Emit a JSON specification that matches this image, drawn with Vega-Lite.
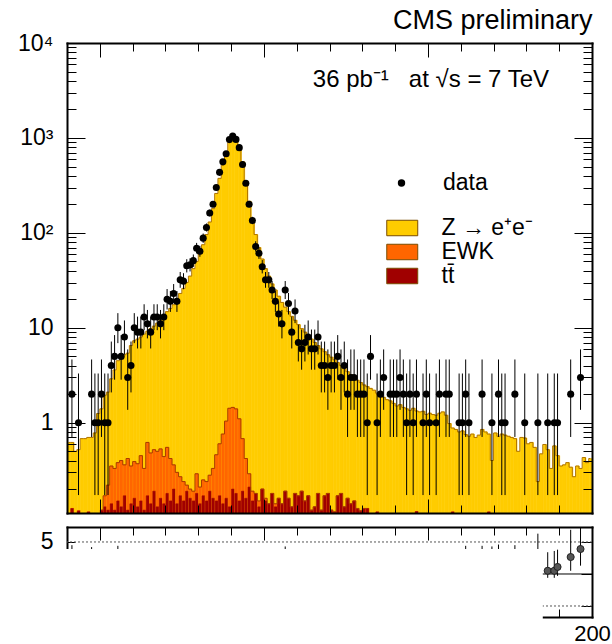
{
  "$schema": "https://vega.github.io/schema/vega-lite/v6.json",
  "background": "white",
  "padding": {"left": 0, "top": 7, "right": 0, "bottom": 0},
  "config": {
    "font": "Liberation Sans",
    "view": {"stroke": null},
    "axis": {"grid": false, "domainColor": "black", "domainWidth": 2, "domainCap": "square", "tickColor": "black", "tickWidth": 1, "labelColor": "black", "labelFont": "Liberation Sans", "labelFontSize": 23, "title": null}
  },
  "datasets": {
    "h": [
      {"m": 40.5, "tot": 0.62},
      {"m": 41.5, "n": 2, "elo": 0.708, "ehi": 4.638, "tot": 0.62, "ewk": 0.125, "tt": 0.125},
      {"m": 42.5, "tot": 0.5},
      {"m": 43.5, "n": 1, "elo": 0.173, "ehi": 3.3, "tot": 0.52, "ewk": 0.118, "tt": 0.118},
      {"m": 44.5, "tot": 0.68},
      {"m": 45.5, "tot": 0.68},
      {"m": 46.5, "tot": 0.7, "ewk": 0.115, "tt": 0.115},
      {"m": 47.5, "n": 2, "elo": 0.708, "ehi": 4.638, "tot": 0.7},
      {"m": 48.5, "n": 1, "elo": 0.173, "ehi": 3.3, "tot": 0.78},
      {"m": 49.5, "n": 1, "elo": 0.173, "ehi": 3.3, "tot": 1.25},
      {"m": 50.5, "n": 2, "elo": 0.708, "ehi": 4.638, "tot": 1.4, "ewk": 0.12, "tt": 0.12},
      {"m": 51.5, "n": 1, "elo": 0.173, "ehi": 3.3, "tot": 1.95, "ewk": 0.17, "tt": 0.13},
      {"m": 52.5, "n": 1, "elo": 0.173, "ehi": 3.3, "tot": 2.1, "ewk": 0.22, "tt": 0.12},
      {"m": 53.5, "n": 4, "elo": 2.086, "ehi": 7.163, "tot": 2.9, "ewk": 0.35, "tt": 0.14},
      {"m": 54.5, "n": 5, "elo": 2.84, "ehi": 8.382, "tot": 3.6, "ewk": 0.33, "tt": 0.12},
      {"m": 55.5, "n": 10, "elo": 6.891, "ehi": 14.27, "tot": 4.5, "ewk": 0.38, "tt": 0.15},
      {"m": 56.5, "n": 5, "elo": 2.84, "ehi": 8.382, "tot": 4.8, "ewk": 0.4, "tt": 0.13},
      {"m": 57.5, "n": 8, "elo": 5.232, "ehi": 11.95, "tot": 5.2, "ewk": 0.36, "tt": 0.17},
      {"m": 58.5, "n": 3, "elo": 1.367, "ehi": 5.918, "tot": 5.4, "ewk": 0.42, "tt": 0.12},
      {"m": 59.5, "n": 4, "elo": 2.086, "ehi": 7.163, "tot": 6.5, "ewk": 0.35, "tt": 0.14},
      {"m": 60.5, "n": 10, "elo": 6.891, "ehi": 14.27, "tot": 7.3, "ewk": 0.39, "tt": 0.16},
      {"m": 61.5, "n": 9, "elo": 6.057, "ehi": 13.11, "tot": 7.6, "ewk": 0.37, "tt": 0.13},
      {"m": 62.5, "n": 9, "elo": 6.057, "ehi": 13.11, "tot": 8.0, "ewk": 0.45, "tt": 0.15},
      {"m": 63.5, "n": 13, "elo": 9.44, "ehi": 17.7, "tot": 8.6, "ewk": 0.33, "tt": 0.12},
      {"m": 64.5, "n": 11, "elo": 7.734, "ehi": 15.42, "tot": 9.2, "ewk": 0.62, "tt": 0.17},
      {"m": 65.5, "n": 9, "elo": 6.057, "ehi": 13.11, "tot": 9.8, "ewk": 0.48, "tt": 0.14},
      {"m": 66.5, "n": 13, "elo": 9.44, "ehi": 17.7, "tot": 10.4, "ewk": 0.52, "tt": 0.19},
      {"m": 67.5, "n": 13, "elo": 9.44, "ehi": 17.7, "tot": 11.2, "ewk": 0.5, "tt": 0.13},
      {"m": 68.5, "n": 11, "elo": 7.734, "ehi": 15.42, "tot": 12.0, "ewk": 0.53, "tt": 0.16},
      {"m": 69.5, "n": 13, "elo": 9.44, "ehi": 17.7, "tot": 13.2, "ewk": 0.44, "tt": 0.14},
      {"m": 70.5, "n": 20, "elo": 15.6, "ehi": 25.6, "tot": 14.8, "ewk": 0.55, "tt": 0.18},
      {"m": 71.5, "n": 19, "elo": 14.7, "ehi": 24.4, "tot": 16.0, "ewk": 0.42, "tt": 0.15},
      {"m": 72.5, "n": 23, "elo": 18.3, "ehi": 28.9, "tot": 17.5, "ewk": 0.36, "tt": 0.2},
      {"m": 73.5, "n": 19, "elo": 14.7, "ehi": 24.4, "tot": 20, "ewk": 0.3, "tt": 0.14},
      {"m": 74.5, "n": 32, "elo": 26.4, "ehi": 38.7, "tot": 23, "ewk": 0.27, "tt": 0.17},
      {"m": 75.5, "n": 31, "elo": 25.5, "ehi": 37.6, "tot": 26, "ewk": 0.24, "tt": 0.15},
      {"m": 76.5, "n": 45, "elo": 38.3, "ehi": 52.8, "tot": 30, "ewk": 0.22, "tt": 0.19},
      {"m": 77.5, "n": 46, "elo": 39.2, "ehi": 53.9, "tot": 35, "ewk": 0.2, "tt": 0.16},
      {"m": 78.5, "n": 51, "elo": 43.9, "ehi": 59.2, "tot": 42, "ewk": 0.19, "tt": 0.15},
      {"m": 79.5, "n": 69, "elo": 60.7, "ehi": 78.4, "tot": 50, "ewk": 0.29, "tt": 0.18},
      {"m": 80.5, "n": 64, "elo": 56.0, "ehi": 73.1, "tot": 60, "ewk": 0.21, "tt": 0.14},
      {"m": 81.5, "n": 88, "elo": 78.6, "ehi": 98.4, "tot": 75, "ewk": 0.25, "tt": 0.17},
      {"m": 82.5, "n": 114, "elo": 103.3, "ehi": 125.7, "tot": 96, "ewk": 0.24, "tt": 0.15},
      {"m": 83.5, "n": 162, "elo": 149.3, "ehi": 175.8, "tot": 130, "ewk": 0.28, "tt": 0.19},
      {"m": 84.5, "n": 200, "elo": 185.9, "ehi": 215.2, "tot": 180, "ewk": 0.33, "tt": 0.16},
      {"m": 85.5, "n": 301, "elo": 283.7, "ehi": 319.4, "tot": 260, "ewk": 0.46, "tt": 0.15},
      {"m": 86.5, "n": 434, "elo": 413.2, "ehi": 456.0, "tot": 375, "ewk": 0.6, "tt": 0.17},
      {"m": 87.5, "n": 560, "elo": 536.3, "ehi": 584.7, "tot": 520, "ewk": 0.76, "tt": 0.14},
      {"m": 88.5, "n": 680, "elo": 653.9, "ehi": 707.1, "tot": 700, "ewk": 1.04, "tt": 0.16},
      {"m": 89.5, "n": 960, "elo": 929.0, "ehi": 992.0, "tot": 900, "ewk": 1.42, "tt": 0.13},
      {"m": 90.5, "n": 1050, "elo": 1017.6, "ehi": 1083.4, "tot": 1030, "ewk": 1.45, "tt": 0.2},
      {"m": 91.5, "n": 965, "elo": 934.0, "ehi": 997.1, "tot": 980, "ewk": 1.4, "tt": 0.18},
      {"m": 92.5, "n": 790, "elo": 761.9, "ehi": 819.1, "tot": 800, "ewk": 1.1, "tt": 0.15},
      {"m": 93.5, "n": 526, "elo": 503.1, "ehi": 550.0, "tot": 560, "ewk": 0.68, "tt": 0.19},
      {"m": 94.5, "n": 333, "elo": 314.8, "ehi": 352.2, "tot": 350, "ewk": 0.42, "tt": 0.16},
      {"m": 95.5, "n": 200, "elo": 185.9, "ehi": 215.2, "tot": 215, "ewk": 0.29, "tt": 0.21},
      {"m": 96.5, "n": 135, "elo": 123.4, "ehi": 147.6, "tot": 140, "ewk": 0.19, "tt": 0.15},
      {"m": 97.5, "n": 72, "elo": 63.5, "ehi": 81.6, "tot": 96, "ewk": 0.18, "tt": 0.18},
      {"m": 98.5, "n": 61, "elo": 53.2, "ehi": 70.0, "tot": 70, "ewk": 0.15, "tt": 0.13},
      {"m": 99.5, "n": 44, "elo": 37.4, "ehi": 51.7, "tot": 53, "ewk": 0.2, "tt": 0.2},
      {"m": 100.5, "n": 32, "elo": 26.4, "ehi": 38.7, "tot": 42, "ewk": 0.16, "tt": 0.15},
      {"m": 101.5, "n": 32, "elo": 26.4, "ehi": 38.7, "tot": 35, "ewk": 0.14, "tt": 0.14},
      {"m": 102.5, "n": 25, "elo": 20.1, "ehi": 31.1, "tot": 29, "ewk": 0.18, "tt": 0.18},
      {"m": 103.5, "n": 19, "elo": 14.7, "ehi": 24.4, "tot": 25, "ewk": 0.14, "tt": 0.13},
      {"m": 104.5, "n": 14, "elo": 10.3, "ehi": 18.8, "tot": 21.5, "ewk": 0.16, "tt": 0.16},
      {"m": 105.5, "n": 11, "elo": 7.734, "ehi": 15.42, "tot": 18.5, "ewk": 0.14, "tt": 0.14},
      {"m": 106.5, "n": 25, "elo": 20.1, "ehi": 31.1, "tot": 16.5, "ewk": 0.19, "tt": 0.19},
      {"m": 107.5, "n": 18, "elo": 13.8, "ehi": 23.3, "tot": 14.8, "ewk": 0.16, "tt": 0.16},
      {"m": 108.5, "n": 9, "elo": 6.057, "ehi": 13.11, "tot": 13.2, "ewk": 0.13, "tt": 0.13},
      {"m": 109.5, "n": 15, "elo": 11.2, "ehi": 19.9, "tot": 12.0, "ewk": 0.18, "tt": 0.18},
      {"m": 110.5, "n": 7, "elo": 4.419, "ehi": 10.77, "tot": 10.8, "ewk": 0.17, "tt": 0.17},
      {"m": 111.5, "n": 6, "elo": 3.62, "ehi": 9.584, "tot": 9.8, "ewk": 0.19, "tt": 0.19},
      {"m": 112.5, "n": 7, "elo": 4.419, "ehi": 10.77, "tot": 9.0, "ewk": 0.15, "tt": 0.15},
      {"m": 113.5, "n": 8, "elo": 5.232, "ehi": 11.95, "tot": 8.2, "ewk": 0.17, "tt": 0.17},
      {"m": 114.5, "n": 6, "elo": 3.62, "ehi": 9.584, "tot": 7.6, "ewk": 0.12, "tt": 0.12},
      {"m": 115.5, "n": 6, "elo": 3.62, "ehi": 9.584, "tot": 7.0, "ewk": 0.13, "tt": 0.13},
      {"m": 116.5, "n": 8, "elo": 5.232, "ehi": 11.95, "tot": 6.5, "ewk": 0.18, "tt": 0.18},
      {"m": 117.5, "n": 4, "elo": 2.086, "ehi": 7.163, "tot": 6.0, "ewk": 0.12, "tt": 0.12},
      {"m": 118.5, "n": 4, "elo": 2.086, "ehi": 7.163, "tot": 5.6, "ewk": 0.17, "tt": 0.17},
      {"m": 119.5, "n": 3, "elo": 1.367, "ehi": 5.918, "tot": 5.2, "ewk": 0.18, "tt": 0.18},
      {"m": 120.5, "n": 4, "elo": 2.086, "ehi": 7.163, "tot": 4.9, "ewk": 0.12, "tt": 0.12},
      {"m": 121.5, "n": 4, "elo": 2.086, "ehi": 7.163, "tot": 4.6, "ewk": 0.115, "tt": 0.115},
      {"m": 122.5, "n": 5, "elo": 2.84, "ehi": 8.382, "tot": 4.3, "ewk": 0.17, "tt": 0.17},
      {"m": 123.5, "n": 3, "elo": 1.367, "ehi": 5.918, "tot": 4.0, "ewk": 0.18, "tt": 0.18},
      {"m": 124.5, "n": 4, "elo": 2.086, "ehi": 7.163, "tot": 3.7, "ewk": 0.13, "tt": 0.13},
      {"m": 125.5, "n": 2, "elo": 0.708, "ehi": 4.638, "tot": 3.45, "ewk": 0.16, "tt": 0.16},
      {"m": 126.5, "n": 3, "elo": 1.367, "ehi": 5.918, "tot": 3.2, "ewk": 0.14, "tt": 0.14},
      {"m": 127.5, "n": 3, "elo": 1.367, "ehi": 5.918, "tot": 3.0, "ewk": 0.15, "tt": 0.15},
      {"m": 128.5, "n": 2, "elo": 0.708, "ehi": 4.638, "tot": 2.8, "ewk": 0.125, "tt": 0.125},
      {"m": 129.5, "n": 2, "elo": 0.708, "ehi": 4.638, "tot": 2.65, "ewk": 0.118, "tt": 0.118},
      {"m": 130.5, "n": 2, "elo": 0.708, "ehi": 4.638, "tot": 2.5, "ewk": 0.125, "tt": 0.125},
      {"m": 131.5, "n": 1, "elo": 0.173, "ehi": 3.3, "tot": 2.4, "ewk": 0.125, "tt": 0.125},
      {"m": 132.5, "n": 5, "elo": 2.84, "ehi": 8.382, "tot": 2.3},
      {"m": 133.5, "tot": 2.2},
      {"m": 134.5, "n": 1, "elo": 0.173, "ehi": 3.3, "tot": 2.05, "ewk": 0.115, "tt": 0.115},
      {"m": 135.5, "n": 2, "elo": 0.708, "ehi": 4.638, "tot": 1.95},
      {"m": 136.5, "n": 3, "elo": 1.367, "ehi": 5.918, "tot": 1.85},
      {"m": 137.5, "tot": 1.75},
      {"m": 138.5, "n": 2, "elo": 0.708, "ehi": 4.638, "tot": 1.7},
      {"m": 139.5, "n": 2, "elo": 0.708, "ehi": 4.638, "tot": 1.6},
      {"m": 140.5, "n": 2, "elo": 0.708, "ehi": 4.638, "tot": 1.5},
      {"m": 141.5, "n": 3, "elo": 1.367, "ehi": 5.918, "tot": 1.55},
      {"m": 142.5, "n": 2, "elo": 0.708, "ehi": 4.638, "tot": 1.45},
      {"m": 143.5, "n": 1, "elo": 0.173, "ehi": 3.3, "tot": 1.4},
      {"m": 144.5, "n": 2, "elo": 0.708, "ehi": 4.638, "tot": 1.35},
      {"m": 145.5, "n": 1, "elo": 0.173, "ehi": 3.3, "tot": 1.42},
      {"m": 146.5, "n": 2, "elo": 0.708, "ehi": 4.638, "tot": 1.33, "ewk": 0.116, "tt": 0.116},
      {"m": 147.5, "tot": 1.3},
      {"m": 148.5, "n": 1, "elo": 0.173, "ehi": 3.3, "tot": 1.32},
      {"m": 149.5, "n": 2, "elo": 0.708, "ehi": 4.638, "tot": 1.22},
      {"m": 150.5, "n": 1, "elo": 0.173, "ehi": 3.3, "tot": 1.26},
      {"m": 151.5, "tot": 1.22},
      {"m": 152.5, "n": 1, "elo": 0.173, "ehi": 3.3, "tot": 1.2},
      {"m": 153.5, "n": 2, "elo": 0.708, "ehi": 4.638, "tot": 1.26},
      {"m": 154.5, "tot": 1.3},
      {"m": 155.5, "n": 2, "elo": 0.708, "ehi": 4.638, "tot": 1.2},
      {"m": 156.5, "n": 2, "elo": 0.708, "ehi": 4.638, "tot": 0.98},
      {"m": 157.5, "tot": 0.88, "ewk": 0.115, "tt": 0.115},
      {"m": 158.5, "tot": 0.85},
      {"m": 159.5, "n": 1, "elo": 0.173, "ehi": 3.3, "tot": 0.8},
      {"m": 160.5, "n": 1, "elo": 0.173, "ehi": 3.3, "tot": 0.82},
      {"m": 161.5, "n": 2, "elo": 0.708, "ehi": 4.638, "tot": 0.75},
      {"m": 162.5, "n": 1, "elo": 0.173, "ehi": 3.3, "tot": 0.72},
      {"m": 163.5, "tot": 0.76},
      {"m": 164.5, "tot": 0.7},
      {"m": 165.5, "tot": 0.74},
      {"m": 166.5, "n": 2, "elo": 0.708, "ehi": 4.638, "tot": 0.85},
      {"m": 167.5, "tot": 0.8},
      {"m": 168.5, "tot": 0.76, "ewk": 0.115, "tt": 0.115},
      {"m": 169.5, "n": 1, "elo": 0.173, "ehi": 3.3, "tot": 0.4},
      {"m": 170.5, "tot": 0.78},
      {"m": 171.5, "n": 2, "elo": 0.708, "ehi": 4.638, "tot": 0.72},
      {"m": 172.5, "n": 1, "elo": 0.173, "ehi": 3.3, "tot": 0.76},
      {"m": 173.5, "n": 1, "elo": 0.173, "ehi": 3.3, "tot": 0.74},
      {"m": 174.5, "tot": 0.72},
      {"m": 175.5, "tot": 0.7},
      {"m": 176.5, "n": 2, "elo": 0.708, "ehi": 4.638, "tot": 0.68},
      {"m": 177.5, "tot": 0.5},
      {"m": 178.5, "tot": 0.7},
      {"m": 179.5, "n": 1, "elo": 0.173, "ehi": 3.3, "tot": 0.69},
      {"m": 180.5, "tot": 0.6},
      {"m": 181.5, "tot": 0.62},
      {"m": 182.5, "tot": 0.55},
      {"m": 183.5, "n": 1, "elo": 0.173, "ehi": 3.3, "tot": 0.24},
      {"m": 184.5, "tot": 0.47},
      {"m": 185.5, "tot": 0.59},
      {"m": 186.5, "n": 1, "elo": 0.173, "ehi": 3.3, "tot": 0.52},
      {"m": 187.5, "tot": 0.33},
      {"m": 188.5, "n": 1, "elo": 0.173, "ehi": 3.3, "tot": 0.57},
      {"m": 189.5, "n": 1, "elo": 0.173, "ehi": 3.3, "tot": 0.45},
      {"m": 190.5, "tot": 0.35},
      {"m": 191.5, "tot": 0.36},
      {"m": 192.5, "tot": 0.38},
      {"m": 193.5, "n": 2, "elo": 0.708, "ehi": 4.638, "tot": 0.34},
      {"m": 194.5, "tot": 0.27},
      {"m": 195.5, "tot": 0.35},
      {"m": 196.5, "n": 3, "elo": 1.367, "ehi": 5.918, "tot": 0.33},
      {"m": 197.5, "tot": 0.43},
      {"m": 198.5, "tot": 0.38},
      {"m": 199.5, "tot": 0.42}
    ],
    "pull": [
      {"m": 41.5, "p": 1.5, "plo": -0.8, "phi": 4.5},
      {"m": 47.5, "p": 1.6, "plo": -0.6, "phi": 4.2},
      {"m": 55.5, "p": 2.6, "plo": 0.9, "phi": 4.4},
      {"m": 106.5, "p": 2.1, "plo": 0.9, "phi": 4.3},
      {"m": 161.5, "p": 1.3, "plo": -1.0, "phi": 4.4},
      {"m": 166.5, "p": 1.2, "plo": -1.2, "phi": 4.4},
      {"m": 169.5, "p": 0.9, "plo": -1.4, "phi": 4.3},
      {"m": 171.5, "p": 1.3, "plo": -1.0, "phi": 4.6},
      {"m": 176.5, "p": 1.4, "plo": -1.0, "phi": 4.5},
      {"m": 183.5, "p": 1.6, "plo": -1.5, "phi": 6.3},
      {"m": 186.5, "p": 0.5, "plo": -0.6, "phi": 3.4},
      {"m": 188.5, "p": 0.5, "plo": -0.6, "phi": 3.6},
      {"m": 189.5, "p": 1.1, "plo": -0.3, "phi": 3.8},
      {"m": 193.5, "p": 2.65, "plo": 0.5, "phi": 6.9},
      {"m": 196.5, "p": 3.9, "plo": 1.3, "phi": 7.2}
    ]
  },
  "spacing": 12,
  "vconcat": [
    {
      "width": 525,
      "height": 470,
      "title": {"text": "CMS preliminary", "anchor": "end", "fontSize": 27, "fontWeight": "normal", "font": "Liberation Sans", "color": "black", "baseline": "alphabetic", "offset": -24},
      "data": {"name": "h"},
      "resolve": {"axis": {"x": "independent", "y": "independent"}, "scale": {"stroke": "independent"}},
      "layer": [
        {
          "transform": [
            {"fold": ["tot", "ewk", "tt"], "as": ["key", "val"]},
            {"bin": {"step": 1, "extent": [40, 200]}, "field": "m", "as": ["b0", "b1"]}
          ],
          "mark": {"type": "bar", "clip": true, "binSpacing": 0, "strokeWidth": 0.6},
          "encoding": {
            "x": {"field": "b0", "type": "quantitative", "bin": {"binned": true}, "scale": {"domain": [40, 200], "nice": false, "zero": false},
              "axis": {"orient": "bottom", "values": [50, 60, 70, 80, 90, 100, 110, 120, 130, 140, 150, 160, 170, 180, 190], "labels": false, "tickSize": {"condition": {"test": "datum.value % 50 == 0", "value": -14}, "value": -8}, "zindex": 1, "title": null}},
            "x2": {"field": "b1"},
            "y": {"field": "val", "type": "quantitative", "scale": {"type": "log", "domain": [0.112, 10000], "nice": false},
              "axis": {"orient": "left", "values": [0.2, 0.3, 0.4, 0.5, 0.6, 0.7, 0.8, 0.9, 1, 2, 3, 4, 5, 6, 7, 8, 9, 10, 20, 30, 40, 50, 60, 70, 80, 90, 100, 200, 300, 400, 500, 600, 700, 800, 900, 1000, 2000, 3000, 4000, 5000, 6000, 7000, 8000, 9000, 10000],
                "labelExpr": "datum.value == 1 ? '1' : datum.value == 10 ? '10' : datum.value == 100 ? '10²' : datum.value == 1000 ? '10³' : datum.value == 10000 ? '10⁴' : ''",
                "tickSize": {"condition": {"test": "datum.value == 1 || datum.value == 10 || datum.value == 100 || datum.value == 1000 || datum.value == 10000", "value": -18}, "value": -9},
                "labelPadding": 32, "labelOverlap": false, "zindex": 1, "title": null}},
            "y2": {"datum": 0.112},
            "fill": {"field": "key", "type": "nominal", "scale": {"domain": ["tot", "ewk", "tt"], "range": ["#FFCC00", "#FF6600", "#A00000"]},
              "legend": {"orient": "none", "legendX": 323.75, "legendY": 173.5, "title": null, "padding": 0, "symbolType": "M-2,-1H2V1H-2Z", "symbolSize": 240, "symbolStrokeColor": "#7a4c00", "symbolStrokeWidth": 1, "symbolOpacity": 1, "labelFontSize": 23, "labelFont": "Liberation Sans", "labelColor": "black", "labelOffset": 27.75, "rowPadding": -1,
                "labelExpr": "datum.label == 'tot' ? 'Z → e⁺e⁻' : datum.label == 'ewk' ? 'EWK' : 'tt̄'"}},
            "stroke": {"field": "key", "type": "nominal", "scale": {"domain": ["tot", "ewk", "tt"], "range": ["#FFCC00", "#FF6600", "#A00000"]}, "legend": null}
          }
        },
        {
          "transform": [{"fold": ["tot", "ewk"], "as": ["key", "val"]}],
          "mark": {"type": "line", "interpolate": "step", "clip": true, "strokeWidth": 1},
          "encoding": {
            "x": {"field": "m", "type": "quantitative",
              "axis": {"orient": "top", "values": [50, 60, 70, 80, 90, 100, 110, 120, 130, 140, 150, 160, 170, 180, 190], "labels": false, "tickSize": {"condition": {"test": "datum.value % 50 == 0", "value": -14}, "value": -8}, "zindex": 1, "title": null}},
            "y": {"field": "val", "type": "quantitative",
              "axis": {"orient": "right", "values": [0.2, 0.3, 0.4, 0.5, 0.6, 0.7, 0.8, 0.9, 1, 2, 3, 4, 5, 6, 7, 8, 9, 10, 20, 30, 40, 50, 60, 70, 80, 90, 100, 200, 300, 400, 500, 600, 700, 800, 900, 1000, 2000, 3000, 4000, 5000, 6000, 7000, 8000, 9000, 10000],
                "labels": false,
                "tickSize": {"condition": {"test": "datum.value == 1 || datum.value == 10 || datum.value == 100 || datum.value == 1000 || datum.value == 10000", "value": -18}, "value": -9},
                "zindex": 1, "title": null}},
            "stroke": {"field": "key", "type": "nominal", "scale": {"domain": ["tot", "ewk"], "range": ["#b07400", "#a83c00"]}, "legend": null}
          }
        },
        {
          "mark": {"type": "rule", "clip": true, "strokeWidth": 1, "color": "black"},
          "encoding": {
            "x": {"field": "m", "type": "quantitative", "axis": null},
            "y": {"field": "elo", "type": "quantitative", "axis": null},
            "y2": {"field": "ehi"}
          }
        },
        {
          "mark": {"type": "point", "filled": true, "color": "black", "opacity": 1, "size": 50, "clip": true},
          "encoding": {
            "x": {"field": "m", "type": "quantitative", "axis": null},
            "y": {"field": "n", "type": "quantitative", "axis": null},
            "shape": {"datum": "data", "type": "nominal", "scale": {"range": ["circle"]},
              "legend": {"orient": "none", "legendX": 323, "legendY": 128.5, "title": null, "padding": 0, "symbolSize": 55, "symbolFillColor": "black", "symbolStrokeColor": "black", "symbolOpacity": 1, "labelFontSize": 23, "labelFont": "Liberation Sans", "labelColor": "black", "labelOffset": 30}}
          }
        },
        {
          "data": {"values": [{"t": "36 pb⁻¹\u00a0\u00a0 at √s = 7 TeV"}]},
          "mark": {"type": "text", "align": "right", "baseline": "alphabetic", "fontSize": 24, "font": "Liberation Sans", "color": "black"},
          "encoding": {
            "x": {"datum": 186.9, "type": "quantitative", "axis": null},
            "y": {"datum": 3400, "type": "quantitative", "axis": null},
            "text": {"field": "t"}
          }
        }
      ]
    },
    {
      "width": 525,
      "height": 90,
      "resolve": {"axis": {"x": "independent", "y": "independent"}},
      "layer": [
        {
          "data": {"values": [{"lv": 5}, {"lv": -5}]},
          "mark": {"type": "rule", "strokeDash": [2, 2], "color": "#555", "strokeWidth": 1},
          "encoding": {
            "y": {"field": "lv", "type": "quantitative", "scale": {"domain": [-6.72, 7.34], "nice": false, "zero": false},
              "axis": {"orient": "left", "values": [-5, 0, 5], "labelExpr": "datum.value == 5 ? '5' : ''", "tickSize": -8, "labelPadding": 22, "zindex": 0, "title": null}}
          }
        },
        {
          "data": {"values": [{"lv": 0}]},
          "mark": {"type": "rule", "color": "black", "strokeWidth": 1},
          "encoding": {
            "y": {"field": "lv", "type": "quantitative",
              "axis": {"orient": "right", "values": [-5, 0, 5], "tickSize": -11, "labels": false, "zindex": 0, "title": null}}
          }
        },
        {
          "data": {"name": "pull"},
          "mark": {"type": "rule", "color": "black", "strokeWidth": 1},
          "encoding": {
            "x": {"field": "m", "type": "quantitative", "scale": {"domain": [40, 200], "nice": false, "zero": false},
              "axis": {"orient": "top", "values": [50, 60, 70, 80, 90, 100, 110, 120, 130, 140, 150, 160, 170, 180, 190], "labels": false, "tickSize": {"condition": {"test": "datum.value % 50 == 0", "value": -13}, "value": -8}, "zindex": 0, "title": null}},
            "y": {"field": "plo", "type": "quantitative", "axis": null},
            "y2": {"field": "phi"}
          }
        },
        {
          "data": {"name": "pull"},
          "mark": {"type": "point", "filled": true, "color": "#555", "stroke": "#222", "strokeWidth": 1, "opacity": 1, "size": 50},
          "encoding": {
            "x": {"field": "m", "type": "quantitative",
              "axis": {"orient": "bottom", "values": [50, 60, 70, 80, 90, 100, 110, 120, 130, 140, 150, 160, 170, 180, 190, 200], "labelExpr": "datum.value == 200 ? '200' : ''", "labelFlush": false, "labelOverlap": false, "labelFontSize": 22, "tickSize": {"condition": {"test": "datum.value % 50 == 0", "value": -13}, "value": -8}, "labelPadding": 19, "zindex": 0, "title": null}},
            "y": {"field": "p", "type": "quantitative", "axis": null}
          }
        },
        {
          "data": {"values": [{}]},
          "mark": {"type": "rect", "fill": "white", "clip": false},
          "encoding": {
            "x": {"datum": 19.88, "type": "quantitative", "axis": null},
            "x2": {"datum": 185},
            "y": {"datum": 3.9, "type": "quantitative", "axis": null},
            "y2": {"datum": -12}
          }
        }
      ]
    }
  ]
}
